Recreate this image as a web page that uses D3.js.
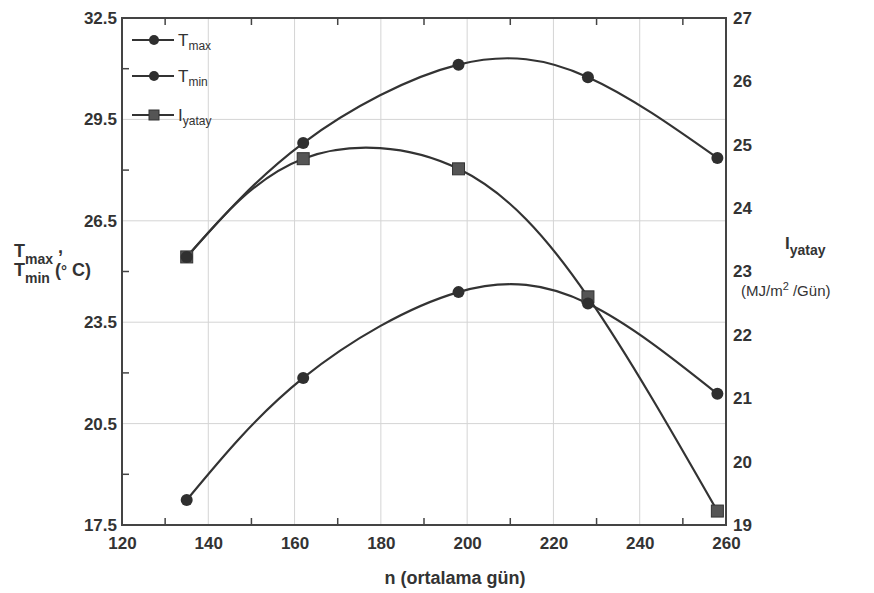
<!DOCTYPE html>
<html>
<head>
<meta charset="utf-8">
<script src="https://cdn.jsdelivr.net/npm/d3@7"></script>
<style>
  body { margin: 0; background: #fff; }
  svg { font-family: "Liberation Sans", Arial, sans-serif; }
</style>
</head>
<body>
<svg id="chart" width="874" height="593"></svg>
<script>
// data
var days = [135, 162, 198, 228, 258];
var tmax = [25.43, 28.8, 31.12, 30.75, 28.36];
var tmin = [18.24, 21.85, 24.39, 24.05, 21.38];
var iyatay = [23.23, 24.78, 24.62, 22.6, 19.22];

var xTicks = [120, 140, 160, 180, 200, 220, 240, 260];
var xMinor = [130, 150, 170, 190, 210, 230, 250];
var yLeftTicks = [17.5, 20.5, 23.5, 26.5, 29.5, 32.5];
var yLeftMinor = [19, 22, 25, 28, 31];
var yRightTicks = [19, 20, 21, 22, 23, 24, 25, 26, 27];

var svg = d3.select("#chart"),
    margin = {top: 18, right: 148, bottom: 68, left: 122},
    width = 874 - margin.left - margin.right,
    height = 593 - margin.top - margin.bottom,
    g = svg.append("g").attr("transform", "translate(" + margin.left + "," + margin.top + ")");

var ink = "#333";

var x = d3.scaleLinear().domain([120, 260]).range([0, width]);
var yL = d3.scaleLinear().domain([17.5, 32.5]).range([height, 0]);
var yR = d3.scaleLinear().domain([19, 27]).range([height, 0]);

// grid
g.append("g")
  .selectAll("line")
  .data(xTicks.slice(1, -1))
  .enter().append("line")
    .attr("x1", x).attr("x2", x)
    .attr("y1", 0).attr("y2", height)
    .attr("stroke", "#d4d4d4").attr("stroke-width", 1);

g.append("g")
  .selectAll("line")
  .data(yLeftTicks.slice(1, -1))
  .enter().append("line")
    .attr("y1", yL).attr("y2", yL)
    .attr("x1", 0).attr("x2", width)
    .attr("stroke", "#d4d4d4").attr("stroke-width", 1);

// axes (labels only, frame drawn separately)
var xAxis = g.append("g")
  .attr("transform", "translate(0," + height + ")")
  .call(d3.axisBottom(x).tickValues(xTicks).tickSize(0).tickPadding(12));

var leftAxis = g.append("g")
  .call(d3.axisLeft(yL).tickValues(yLeftTicks).tickSize(0).tickPadding(5).tickFormat(d3.format(".1f")));

var rightAxis = g.append("g")
  .attr("transform", "translate(" + width + ",0)")
  .call(d3.axisRight(yR).tickValues(yRightTicks).tickSize(0).tickPadding(7));

[xAxis, leftAxis, rightAxis].forEach(function(a) {
  a.select(".domain").remove();
  a.selectAll("text")
    .attr("fill", ink)
    .style("font-size", "17px")
    .style("font-weight", "bold");
});

// frame
g.append("rect")
  .attr("width", width).attr("height", height)
  .attr("fill", "none").attr("stroke", "#444").attr("stroke-width", 2);

// inward minor ticks
g.append("g").selectAll("line").data(xMinor).enter().append("line")
  .attr("x1", x).attr("x2", x).attr("y1", height).attr("y2", height - 7)
  .attr("stroke", "#444").attr("stroke-width", 1.5);
g.append("g").selectAll("line").data(xMinor).enter().append("line")
  .attr("x1", x).attr("x2", x).attr("y1", 0).attr("y2", 7)
  .attr("stroke", "#444").attr("stroke-width", 1.5);
g.append("g").selectAll("line").data(yLeftMinor).enter().append("line")
  .attr("y1", yL).attr("y2", yL).attr("x1", 0).attr("x2", 7)
  .attr("stroke", "#444").attr("stroke-width", 1.5);

// series
var series = [
  {id: "max", values: tmax, y: yL, shape: "circle"},
  {id: "min", values: tmin, y: yL, shape: "circle"},
  {id: "yatay", values: iyatay, y: yR, shape: "square"}
];

series.forEach(function(s) {
  var line = d3.line()
    .curve(d3.curveNatural)
    .x(function(d, i) { return x(days[i]); })
    .y(function(d) { return s.y(d); });

  g.append("path")
    .datum(s.values)
    .attr("fill", "none")
    .attr("stroke", ink)
    .attr("stroke-width", 2.2)
    .attr("d", line);
});

series.slice().reverse().forEach(function(s) {
  var pts = g.append("g").selectAll("g").data(s.values).enter();
  if (s.shape === "circle") {
    pts.append("circle")
      .attr("cx", function(d, i) { return x(days[i]); })
      .attr("cy", function(d) { return s.y(d); })
      .attr("r", 6)
      .attr("fill", "#2f2f2f");
  } else {
    pts.append("rect")
      .attr("x", function(d, i) { return x(days[i]) - 6; })
      .attr("y", function(d) { return s.y(d) - 6; })
      .attr("width", 12).attr("height", 12)
      .attr("fill", "#555").attr("stroke", "#333").attr("stroke-width", 1);
  }
});

// legend
var legend = g.append("g")
  .selectAll("g")
  .data(series)
  .enter().append("g")
    .attr("transform", function(d, i) { return "translate(10," + [22, 58, 97][i] + ")"; });

legend.append("line")
  .attr("x1", 0).attr("x2", 42)
  .attr("stroke", ink).attr("stroke-width", 2.2);

legend.each(function(d) {
  var el = d3.select(this);
  if (d.shape === "circle") {
    el.append("circle").attr("cx", 22).attr("r", 5).attr("fill", "#2f2f2f");
  } else {
    el.append("rect").attr("x", 17).attr("y", -5).attr("width", 10).attr("height", 10)
      .attr("fill", "#555").attr("stroke", "#333");
  }
});

var lt = legend.append("text")
  .attr("x", 46).attr("y", 6)
  .attr("fill", ink)
  .style("font-size", "17px");
lt.append("tspan").text(function(d) { return d.shape === "square" ? "I" : "T"; });
lt.append("tspan").attr("dy", 4).style("font-size", "12px").text(function(d) { return d.id; });

// axis titles
var lTitle = svg.append("text")
  .attr("fill", ink)
  .style("font-size", "18px")
  .style("font-weight", "bold");
lTitle.append("tspan").attr("x", 14).attr("y", 257).text("T");
lTitle.append("tspan").attr("dy", 7).style("font-size", "14px").text("max");
lTitle.append("tspan").attr("dy", -11).text(" ,");

var lTitle2 = svg.append("text")
  .attr("fill", ink)
  .style("font-size", "18px")
  .style("font-weight", "bold");
lTitle2.append("tspan").attr("x", 14).attr("y", 276).text("T");
lTitle2.append("tspan").attr("dy", 7).style("font-size", "14px").text("min");
lTitle2.append("tspan").attr("dy", -7).text(" (");
lTitle2.append("tspan").style("font-size", "15px").text("°");
lTitle2.append("tspan").text(" C)");

var rTitle = svg.append("text")
  .attr("fill", ink)
  .style("font-size", "17px")
  .style("font-weight", "bold");
rTitle.append("tspan").attr("x", 785).attr("y", 249).text("I");
rTitle.append("tspan").attr("dy", 6).style("font-size", "14px").text("yatay");

var rUnit = svg.append("text")
  .attr("fill", ink)
  .style("font-size", "15px");
rUnit.append("tspan").attr("x", 741).attr("y", 296).text("(MJ/m");
rUnit.append("tspan").attr("dy", -6).style("font-size", "11px").text("2");
rUnit.append("tspan").attr("dy", 6).text(" /Gün)");

svg.append("text")
  .attr("x", 455).attr("y", 584)
  .attr("text-anchor", "middle")
  .attr("fill", ink)
  .style("font-size", "18px")
  .style("font-weight", "bold")
  .text("n (ortalama gün)");
</script>
</body>
</html>
